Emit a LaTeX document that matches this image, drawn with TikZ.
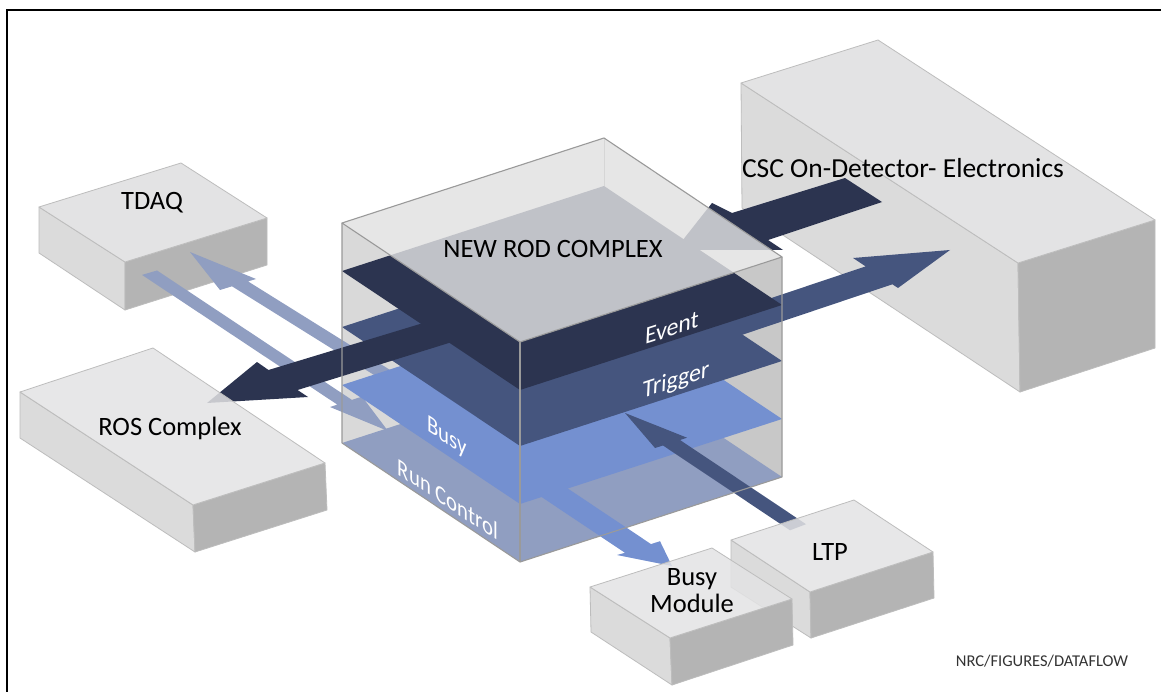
\documentclass[tikz,border=0pt]{standalone}
\usepackage{fontspec}
\setmainfont{Carlito}
\definecolor{evt}{HTML}{2C3450}
\definecolor{trg}{HTML}{45557E}
\definecolor{bsy}{HTML}{7490D0}
\definecolor{runc}{HTML}{909EC1}
\definecolor{boxtop}{HTML}{E3E3E4}
\definecolor{boxleft}{HTML}{DBDBDB}
\definecolor{boxright}{HTML}{B4B4B4}
\definecolor{boxedge}{HTML}{BDBDBD}
\definecolor{cubeedge}{HTML}{9A9A9A}
\definecolor{wallL}{HTML}{D9D9D9}
\definecolor{wallR}{HTML}{C8C8C8}
\definecolor{ctop}{HTML}{E6E6E6}
% #1 top opacity, #2 L, #3 B, #4 R, #5 F, #6 BF, #7 BR, #8 BL
\newcommand{\mkbox}[8]{%
  \filldraw[boxe,fill=boxleft] #2 -- #5 -- #6 -- #8 -- cycle;
  \filldraw[boxe,fill=boxright] #5 -- #4 -- #7 -- #6 -- cycle;
  \filldraw[boxe,fill=boxtop,fill opacity=#1] #2 -- #3 -- #4 -- #5 -- cycle;}
\begin{document}
\begin{tikzpicture}[x=1pt,y=-1pt,
  boxe/.style={draw=boxedge,line width=0.8pt,line join=round},
  cubee/.style={draw=cubeedge,line width=1.1pt,line join=round},
  lab/.style={font=\fontsize{26.5}{27}\selectfont,inner sep=0pt,align=center},
  flab/.style={font=\fontsize{25}{26}\selectfont,text=white,inner sep=0pt},
  rface/.style={cm={0.951,0.309,0.05,1,(0,0)}},
  lface/.style={cm={0.831,-0.556,0,1,(0,0)}}]
\useasboundingbox (0,0) rectangle (1161,692);
\fill[white] (0,0) rectangle (1161,692);
\draw[line width=1.5pt] (7,692) -- (7,10) -- (1161,10);
% background boxes
\mkbox{1}{(741,83)}{(878,40)}{(1155,220)}{(1018,263)}{(1020,392)}{(1155,348)}{(742,208)}
\mkbox{1}{(39,207)}{(181,163)}{(267,218)}{(125,262)}{(125,310)}{(267,265)}{(39,253)}
% cube interior walls
\fill[wallL] (342,223) -- (520,342) -- (520,562) -- (342,443) -- cycle;
\fill[wallR] (520,342) -- (782,257) -- (782,477) -- (520,562) -- cycle;
\fill[ctop] (342,223) -- (604,138) -- (782,257) -- (520,342) -- cycle;
\draw[draw=cubeedge,line width=1pt] (604,138) -- (604,186);
% Run Control plane
\fill[runc] (342,443) -- (604,358) -- (782,477) -- (520,562) -- cycle;
% TDAQ arrows
\fill[runc] (190,252) -- (256,279) -- (248,281.4) -- (410,382.4) -- (400,391.2) -- (232,286.3) -- (220,290) -- cycle;
\fill[runc] (142,274.9) -- (157,270.5) -- (351.9,399.9) -- (362,396.6) -- (388,431) -- (330,407) -- (337.3,404.6) -- cycle;
% Busy plane and arrow
\fill[bsy] (342,385) -- (604,300) -- (782,419) -- (520,504) -- cycle;
\fill[bsy] (520,482.6) -- (550,476.6) -- (651,544.1) -- (660,541.2) -- (672,566) -- (617,555) -- (625,552.8) -- cycle;
% LTP trigger arrow
\fill[trg] (625,413) -- (655,448) -- (663,445.5) -- (790,530.3) -- (806,524.2) -- (680,440) -- (687,437.7) -- cycle;
% Trigger plane and arrow
\fill[trg] (342,327) -- (604,242) -- (782,361) -- (520,446) -- cycle;
\fill[trg] (650,338.8) -- (865.6,266.4) -- (853,258) -- (950,250) -- (898,288) -- (892.4,284.3) -- (650,365.8) -- cycle;
% Event plane and arrows
\fill[evt] (342,271) -- (604,186) -- (782,305) -- (520,390) -- cycle;
\fill[evt] (470,308.8) -- (268.5,370) -- (257,362) -- (207,403) -- (308,397) -- (297.6,390) -- (470,336.4) -- cycle;
\fill[evt] (845,178) -- (882,202) -- (768,240) -- (783,250) -- (675,250) -- (712,203) -- (732,213) -- cycle;
% cube top overlay and edges
\fill[ctop,fill opacity=0.8] (342,223) -- (604,138) -- (782,257) -- (520,342) -- cycle;
\draw[cubee] (342,223) -- (604,138) -- (782,257) -- (520,342) -- cycle;
\draw[cubee] (342,223) -- (342,443) -- (520,562) -- (782,477) -- (782,257);
\draw[cubee] (520,342) -- (520,562);
% foreground boxes
\mkbox{0.85}{(20,392)}{(153,348)}{(325,463)}{(193,505)}{(195,552)}{(327,510)}{(20,438)}
\mkbox{0.85}{(731,540)}{(854,500)}{(933,552)}{(810,592)}{(811,638)}{(934,598)}{(731,587)}
\mkbox{0.85}{(590,587)}{(712,548)}{(792,599)}{(670,638)}{(672,685)}{(793,645)}{(591,632)}
% labels
\node[lab] (tdaq) at (152,203) {TDAQ};
\node[lab] (ros) at (170,428) {ROS Complex};
\node[lab] (rod) at (553,249) {NEW ROD COMPLEX};
\node[lab,font=\fontsize{27.5}{28}\selectfont] (csc) at (903,168) {CSC On-Detector- Electronics};
\node[lab] (busymod) at (692,591) {Busy\\Module};
\node[lab] (ltp) at (830,552) {LTP};
\node[flab,rface] (event) at (672,328) {Event};
\node[flab,rface] (trigger) at (676,381) {Trigger};
\node[flab,lface] (busy) at (447,438) {Busy};
\node[flab,lface] (runctl) at (448,499) {Run Control};
\node[font=\fontsize{16.5}{17}\selectfont,text=black!80,inner sep=0pt] (ref) at (1042,661) {NRC/FIGURES/DATAFLOW};
\end{tikzpicture}
\end{document}
